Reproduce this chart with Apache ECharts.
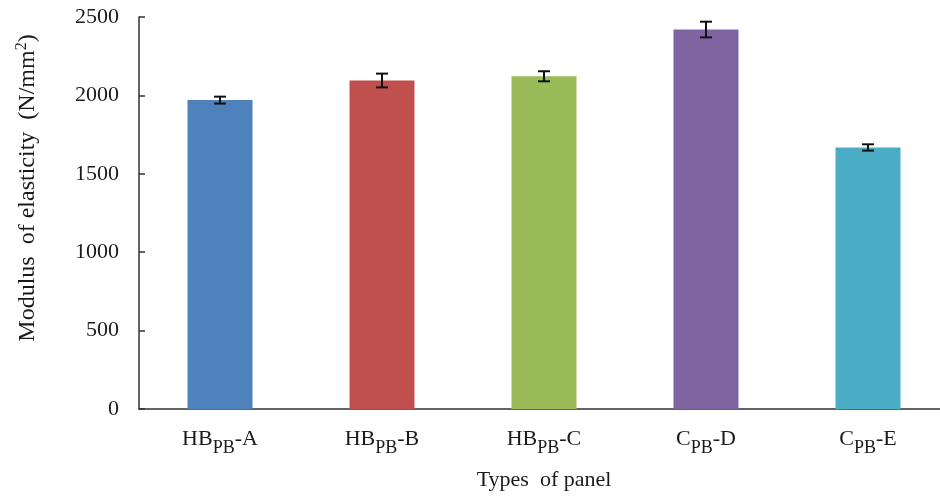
<!DOCTYPE html>
<html>
<head>
<meta charset="utf-8">
<script src="https://cdn.jsdelivr.net/npm/echarts@6/dist/echarts.min.js"></script>
<style>
  html, body { margin: 0; padding: 0; background: #fff; }
  #chart { width: 940px; height: 496px; }
</style>
</head>
<body>
<div id="chart"></div>
<script>
// Panel types: base name, subscript, suffix
const panelBase = ['HB', 'HB', 'HB', 'C', 'C'];
const panelSub = ['PB', 'PB', 'PB', 'PB', 'PB'];
const panelSuffix = ['-A', '-B', '-C', '-D', '-E'];
// Mean modulus of elasticity (N/mm2) and standard deviation
const moeMean = [1970, 2095, 2122, 2420, 1668];
const moeError = [22, 44, 32, 50, 20];
const barColors = ['#4F81BD', '#C0504D', '#9BBB59', '#8064A2', '#4BACC6'];
const yTicks = { min: 0, max: 2500, interval: 500 };

const FONT = 'Liberation Serif';
const categories = panelBase.map((b, i) => b + '|' + i);

const chart = echarts.init(document.getElementById('chart'), null, { renderer: 'canvas' });

chart.setOption({
  backgroundColor: '#ffffff',
  animation: false,
  grid: { left: 139, right: -9, top: 17, bottom: 87, containLabel: false, outerBoundsMode: 'none' },
  xAxis: {
    type: 'category',
    data: categories,
    axisLine: { lineStyle: { color: '#333', width: 1.5 } },
    axisTick: { inside: true, alignWithLabel: true, length: 5, lineStyle: { color: '#333', width: 1.5 } },
    axisLabel: {
      margin: 17,
      formatter: function (v) {
        const i = +v.split('|')[1];
        return '{b|' + panelBase[i] + '}{s|' + panelSub[i] + '}{b|' + panelSuffix[i] + '}';
      },
      rich: {
        b: { fontFamily: FONT, fontSize: 22, color: '#1a1a1a', verticalAlign: 'bottom', lineHeight: 24 },
        s: { fontFamily: FONT, fontSize: 18, color: '#1a1a1a', verticalAlign: 'bottom', lineHeight: 18, padding: [0, 0, -7, 0] }
      }
    },
    name: 'Types  of panel',
    nameLocation: 'middle',
    nameGap: 60,
    nameTextStyle: { fontFamily: FONT, fontSize: 22, color: '#1a1a1a' }
  },
  yAxis: {
    type: 'value',
    min: yTicks.min,
    max: yTicks.max,
    interval: yTicks.interval,
    splitLine: { show: false },
    axisLine: { show: true, lineStyle: { color: '#333', width: 1.5 } },
    axisTick: { show: true, inside: true, length: 6, lineStyle: { color: '#333', width: 1.5 } },
    axisLabel: { fontFamily: FONT, fontSize: 22, color: '#1a1a1a', margin: 20, formatter: v => String(v) }
  },
  graphic: [{
    type: 'text',
    x: 27,
    y: 188,
    rotation: Math.PI / 2,
    style: {
      text: '{t|Modulus  of elasticity  (N/mm}{p|2}{t|)}',
      align: 'center',
      verticalAlign: 'middle',
      rich: {
        t: { fontFamily: FONT, fontSize: 24, fill: '#1a1a1a', verticalAlign: 'bottom', lineHeight: 26 },
        p: { fontFamily: FONT, fontSize: 16, fill: '#1a1a1a', verticalAlign: 'top', lineHeight: 26 }
      }
    }
  }],
  series: [
    {
      type: 'bar',
      data: moeMean.map((v, i) => ({ value: v, itemStyle: { color: barColors[i] } })),
      barWidth: 65
    },
    {
      type: 'custom',
      data: moeMean.map((v, i) => [i, v - moeError[i], v + moeError[i]]),
      renderItem: function (params, api) {
        const lo = api.coord([api.value(0), api.value(1)]);
        const hi = api.coord([api.value(0), api.value(2)]);
        const half = 6;
        const style = { stroke: '#111', lineWidth: 2 };
        return {
          type: 'group',
          children: [
            { type: 'line', shape: { x1: lo[0], y1: lo[1], x2: hi[0], y2: hi[1] }, style: style },
            { type: 'line', shape: { x1: lo[0] - half, y1: lo[1], x2: lo[0] + half, y2: lo[1] }, style: style },
            { type: 'line', shape: { x1: hi[0] - half, y1: hi[1], x2: hi[0] + half, y2: hi[1] }, style: style }
          ]
        };
      },
      z: 10
    }
  ]
});
</script>
</body>
</html>
